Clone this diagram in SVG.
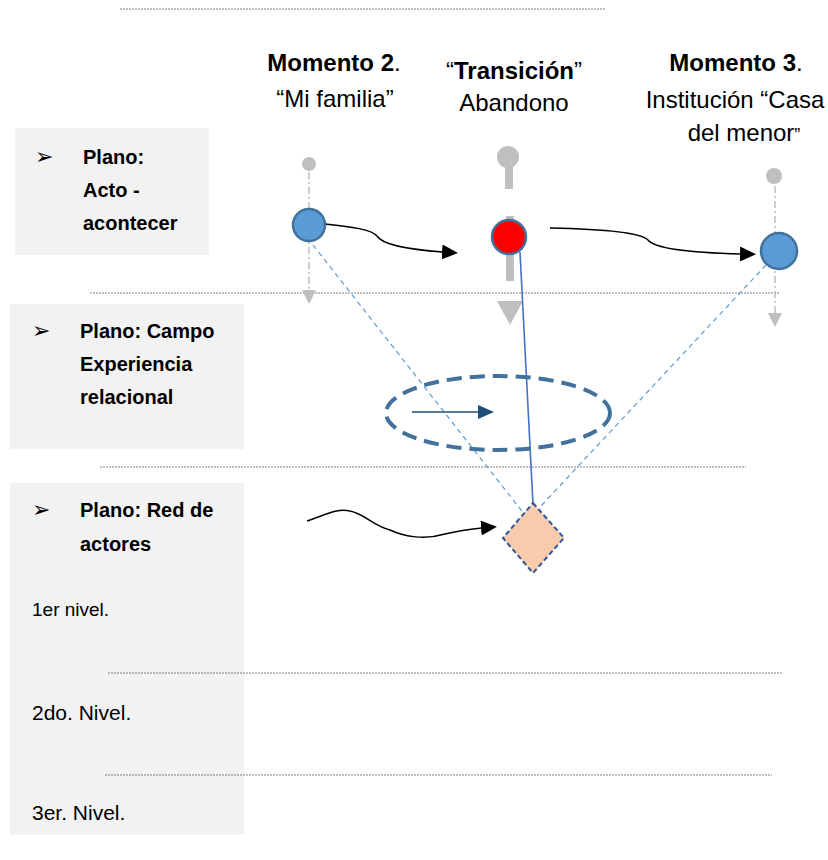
<svg xmlns="http://www.w3.org/2000/svg" width="828" height="860" viewBox="0 0 828 860">
<style>
.t{font-family:"Liberation Sans",Arial,sans-serif;fill:#000}
.h{font-size:24px}
.b{font-weight:bold}
.bx{font-size:20px;font-weight:bold}
.bul{font-family:"DejaVu Sans",sans-serif;font-size:22px;fill:#000}
.panel{fill:#f2f2f2}
.sep{stroke:#7f7f7f;stroke-width:1;stroke-dasharray:2 1;fill:none}
.gdd{stroke:#bfbfbf;stroke-width:1.5;stroke-dasharray:7 3 2 3;fill:none}
.blk{stroke:#000;stroke-width:1.5;fill:none}
.bd{stroke:#5b9bd5;stroke-width:1.2;stroke-dasharray:5 4;fill:none}
.node{fill:#5b9bd5;stroke:#41719c;stroke-width:2.5}
</style>
<defs>
<marker id="ab" markerUnits="userSpaceOnUse" markerWidth="16" markerHeight="15" refX="1" refY="7.5" orient="auto" viewBox="0 0 16 15"><path d="M0,0 L16,7.5 L0,15 z" fill="#000"/></marker>
<marker id="adb" markerUnits="userSpaceOnUse" markerWidth="16" markerHeight="14" refX="1" refY="7" orient="auto" viewBox="0 0 16 14"><path d="M0,0 L16,7 L0,14 z" fill="#1f4e79"/></marker>
<marker id="ag" markerUnits="userSpaceOnUse" markerWidth="14" markerHeight="14" refX="0" refY="7" orient="auto" viewBox="0 0 14 14"><path d="M0,0 L14,7 L0,14 z" fill="#bfbfbf"/></marker>
</defs>

<g id="separators">
<line class="sep" x1="120" y1="9" x2="605" y2="9"/>
<line class="sep" x1="90" y1="293" x2="780" y2="293"/>
<line class="sep" x1="100" y1="467" x2="746" y2="467"/>
</g>

<g id="panel-acto">
<rect class="panel" x="15" y="128" width="194" height="127"/>
<text class="bul" x="35" y="164">➢</text>
<text class="t bx" x="83" y="164">Plano:</text>
<text class="t bx" x="83" y="197">Acto -</text>
<text class="t bx" x="83" y="230">acontecer</text>
</g>

<g id="panel-campo">
<rect class="panel" x="10" y="304" width="234" height="145"/>
<text class="bul" x="32" y="338">➢</text>
<text class="t bx" x="80" y="338">Plano: Campo</text>
<text class="t bx" x="80" y="371">Experiencia</text>
<text class="t bx" x="80" y="404">relacional</text>
</g>

<g id="panel-red">
<rect class="panel" x="10" y="483" width="234" height="352"/>
<text class="bul" x="32" y="517">➢</text>
<text class="t bx" x="80" y="517">Plano: Red de</text>
<text class="t bx" x="80" y="551">actores</text>
<text class="t" x="32" y="616" font-size="19">1er nivel.</text>
<text class="t" x="32" y="720" font-size="21">2do. Nivel.</text>
<text class="t" x="32" y="820" font-size="21">3er. Nivel.</text>
</g>

<g id="level-lines">
<line class="sep" x1="108" y1="673" x2="782" y2="673"/>
<line class="sep" x1="105" y1="775" x2="772" y2="775"/>
</g>

<g id="header-momento2">
<text class="t h" x="334" y="71" text-anchor="middle"><tspan class="b">Momento 2</tspan>.</text>
<text class="t h" x="335" y="107" text-anchor="middle">“Mi familia”</text>
</g>
<g id="header-transicion">
<text class="t h" x="514" y="79" text-anchor="middle">“<tspan class="b">Transición</tspan>”</text>
<text class="t h" x="514" y="111" text-anchor="middle">Abandono</text>
</g>
<g id="header-momento3">
<text class="t h" x="736" y="71" text-anchor="middle"><tspan class="b">Momento 3</tspan>.</text>
<text class="t h" x="735" y="108" text-anchor="middle">Institución “Casa</text>
<text class="t h" x="744" y="141" text-anchor="middle">del menor<tspan font-size="18">”</tspan></text>
</g>

<g id="timeline-1">
<circle cx="309" cy="164" r="7" fill="#bfbfbf"/>
<line class="gdd" x1="309" y1="172" x2="309" y2="290" marker-end="url(#ag)"/>
</g>
<g id="timeline-2">
<circle cx="508" cy="157" r="11" fill="#bfbfbf"/>
<line x1="509" y1="166" x2="509" y2="189" stroke="#bfbfbf" stroke-width="8"/>
<line x1="510" y1="216" x2="510" y2="281" stroke="#bfbfbf" stroke-width="8"/>
<polygon points="497,301 523,301 510,325" fill="#bfbfbf"/>
</g>
<g id="timeline-3">
<circle cx="774" cy="176" r="8" fill="#bfbfbf"/>
<line class="gdd" x1="775" y1="186" x2="775" y2="313" marker-end="url(#ag)"/>
</g>

<g id="connectors">
<line class="bd" x1="313" y1="245" x2="525" y2="515"/>
<line class="bd" x1="766" y1="265" x2="541" y2="506"/>
<line x1="520" y1="252" x2="533" y2="504" stroke="#4472c4" stroke-width="1.6"/>
<path class="blk" d="M325 224 C355 227 372 230 377 236 C383 246 415 250 443 252" marker-end="url(#ab)"/>
<path class="blk" d="M550 228 C600 229 640 232 648 240 C656 250 700 253 741 254" marker-end="url(#ab)"/>
<path class="blk" d="M307 521 C325 515 337 508 350 511 C365 514 372 525 390 530 C405 537 425 540 445 534 C458 531 470 529 482 528" marker-end="url(#ab)"/>
</g>

<g id="node-momento2">
<circle class="node" cx="309" cy="225" r="16"/>
</g>
<g id="node-transicion">
<circle cx="509" cy="237" r="17" fill="#ff0000" stroke="#41719c" stroke-width="2.5"/>
</g>
<g id="node-momento3">
<circle class="node" cx="779" cy="251" r="18"/>
</g>

<g id="campo-ellipse">
<ellipse cx="498" cy="413" rx="112" ry="37" fill="none" stroke="#41719c" stroke-width="4" stroke-dasharray="15 8"/>
<line x1="412" y1="412" x2="479" y2="412" stroke="#1f4e79" stroke-width="1.6" marker-end="url(#adb)"/>
</g>

<g id="node-actores">
<polygon points="533,503 564,538 533,573 503,538" fill="#f8cbad" stroke="#2f5597" stroke-width="2" stroke-dasharray="5 3"/>
</g>
</svg>
